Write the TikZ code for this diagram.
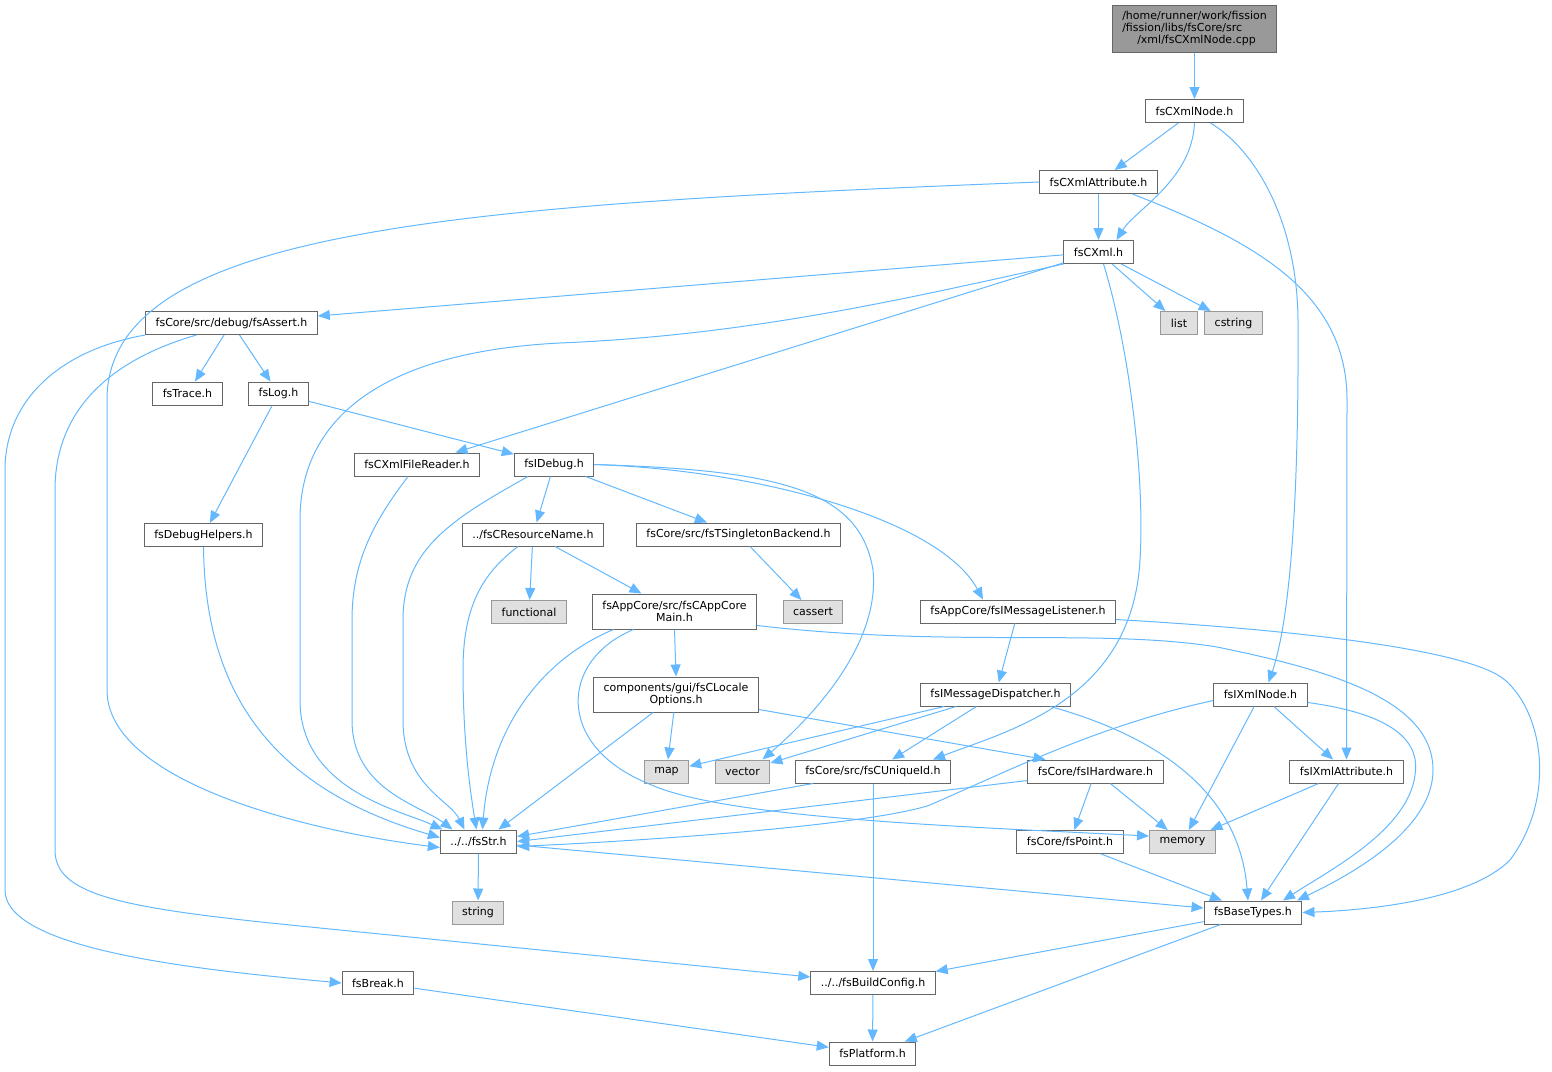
\documentclass[tikz,border=0pt]{standalone}
\usepackage{fontspec}
\setmainfont{DejaVu Sans}
\usetikzlibrary{arrows.meta}
\definecolor{edgeblue}{HTML}{63B8FF}
\definecolor{boxline}{HTML}{666666}
\definecolor{sysline}{HTML}{999999}
\definecolor{sysfill}{HTML}{E0E0E0}
\definecolor{rootfill}{HTML}{999999}

\begin{document}
\begin{tikzpicture}[x=1pt,y=-1pt,
  hdr/.style={draw=boxline,fill=white,line width=1pt,minimum height=23pt,
    inner xsep=10pt,inner ysep=2pt,align=center,font=\fontsize{11}{12}\selectfont},
  sys/.style={hdr,draw=sysline,fill=sysfill},
  root/.style={hdr,fill=rootfill,minimum height=47pt,align=left},
  twoline/.style={minimum height=35pt},
  inc/.style={color=edgeblue,line width=1pt,-{Triangle[length=12pt,width=10pt]}}]
  \useasboundingbox (0,0) rectangle (1552,1071);

  \node[root] (root) at (1194.5,28.5) {/home/runner/work/fission\\/fission/libs/fsCore/src\\\hspace*{15pt}/xml/fsCXmlNode.cpp};
  \node[hdr] (cxmlnode) at (1194.5,111) {fsCXmlNode.h};
  \node[hdr] (cxmlattr) at (1098.5,182) {fsCXmlAttribute.h};
  \node[hdr] (cxml) at (1098.5,252) {fsCXml.h};
  \node[sys] (list) at (1179,323) {list};
  \node[sys] (cstring) at (1233.5,323) {cstring};
  \node[hdr] (assert) at (231.5,323) {fsCore/src/debug/fsAssert.h};
  \node[hdr] (trace) at (187.5,393.5) {fsTrace.h};
  \node[hdr] (log) at (278.5,393.5) {fsLog.h};
  \node[hdr] (filereader) at (417,464.5) {fsCXmlFileReader.h};
  \node[hdr] (idebug) at (554,464.5) {fsIDebug.h};
  \node[hdr] (dbghelpers) at (203.5,535) {fsDebugHelpers.h};
  \node[hdr] (resname) at (533,534.5) {../fsCResourceName.h};
  \node[hdr] (singleton) at (738.5,534.5) {fsCore/src/fsTSingletonBackend.h};
  \node[sys] (functional) at (529,612) {functional};
  \node[hdr,twoline] (appcore) at (674.5,611.5) {fsAppCore/src/fsCAppCore\\Main.h};
  \node[sys] (cassert) at (813,612) {cassert};
  \node[hdr] (msglistener) at (1018,611.5) {fsAppCore/fsIMessageListener.h};
  \node[hdr,twoline] (locale) at (676,694.5) {components/gui/fsCLocale\\Options.h};
  \node[hdr] (msgdispatch) at (995.5,694.5) {fsIMessageDispatcher.h};
  \node[hdr] (ixmlnode) at (1260.5,694.5) {fsIXmlNode.h};
  \node[sys] (map) at (666.5,771.5) {map};
  \node[sys] (vector) at (742.5,771.5) {vector};
  \node[hdr] (uniqueid) at (873,771.5) {fsCore/src/fsCUniqueId.h};
  \node[hdr] (hardware) at (1095.5,771.5) {fsCore/fsIHardware.h};
  \node[hdr] (ixmlattr) at (1346.5,771.5) {fsIXmlAttribute.h};
  \node[hdr] (str) at (478.5,841.5) {../../fsStr.h};
  \node[hdr] (point) at (1070,842) {fsCore/fsPoint.h};
  \node[sys] (memory) at (1182.5,842) {memory};
  \node[sys] (string) at (478,912.5) {string};
  \node[hdr] (basetypes) at (1253,912.5) {fsBaseTypes.h};
  \node[hdr] (break) at (378,983) {fsBreak.h};
  \node[hdr] (buildcfg) at (873,983) {../../fsBuildConfig.h};
  \node[hdr] (platform) at (872.5,1053.5) {fsPlatform.h};

  \path[inc]
    (root) edge (cxmlnode)
    (cxmlnode) edge (cxmlattr)
    (cxmlattr) edge (cxml)
    (cxml) edge (assert)
           edge (filereader)
           edge (list)
           edge (cstring)
    (assert) edge (trace)
             edge (log)
    (log) edge (dbghelpers)
          edge (idebug)
    (idebug) edge (resname)
             edge (singleton)
    (resname) edge (functional)
              edge (appcore)
    (singleton) edge (cassert)
    (appcore.south) edge (locale.north)
    (msglistener) edge (msgdispatch)
    (locale) edge (map)
    (msgdispatch) edge (map)
                  edge (vector)
                  edge (uniqueid)
    (ixmlnode) edge (memory)
               edge (ixmlattr)
    (uniqueid) edge (buildcfg)
    (hardware) edge (point)
               edge (memory)
    (ixmlattr) edge (memory)
               edge (basetypes)
    (str) edge (string)
          edge (basetypes)
    (point) edge (basetypes)
    (basetypes) edge (buildcfg)
                edge (platform)
    (break) edge (platform)
    (buildcfg) edge (platform);

  \draw[inc] ([yshift=-15pt]locale.east) -- ([xshift=-50pt]hardware.north);
  \draw[inc] (cxmlnode.south) .. controls (1192,180) and (1135,210) .. ([xshift=18pt]cxml.north);
  \draw[inc] ([xshift=16pt]cxmlnode.south) .. controls (1255,150) and (1297,220) .. (1298,320)
    .. controls (1299,500) and (1290,620) .. ([xshift=8pt]ixmlnode.north);
  \draw[inc] ([xshift=34pt]cxmlattr.south) .. controls (1250,240) and (1347,290) .. (1347,400)
    -- (ixmlattr.north);
  \draw[inc] (cxmlattr.west) .. controls (450,205) and (107,230) .. (107,400) -- (107,690)
    .. controls (107,780) and (300,830) .. ([yshift=-6pt]str.west);
  \draw[inc] (cxml.south west) .. controls (900,300) and (750,335) .. (560,343)
    .. controls (380,352) and (300,420) .. (300,520) -- (300,700)
    .. controls (300,790) and (400,810) .. ([xshift=-36pt]str.north);
  \draw[inc] ([xshift=5pt]cxml.south) .. controls (1130,350) and (1145,480) .. (1140,560)
    .. controls (1132,700) and (1010,730) .. ([xshift=60pt]uniqueid.north);
  \draw[inc] (assert.south west) .. controls (60,350) and (5,400) .. (5,470) -- (5,890)
    .. controls (5,950) and (200,970) .. (break.west);
  \draw[inc] ([xshift=-35pt]assert.south) .. controls (110,360) and (55,410) .. (55,490) -- (55,850)
    .. controls (55,895) and (120,908) .. (300,926) -- ([yshift=6pt]buildcfg.west);
  \draw[inc] ([xshift=-9pt]filereader.south) .. controls (375,520) and (352,560) .. (352,620) -- (352,720)
    .. controls (352,790) and (420,805) .. ([xshift=-26pt]str.north);
  \draw[inc] (dbghelpers.south) .. controls (205,680) and (260,785) .. ([yshift=4pt]str.west);
  \draw[inc] ([xshift=-26pt]idebug.south) .. controls (450,520) and (403,550) .. (403,620) -- (403,720)
    .. controls (403,785) and (450,800) .. ([xshift=-14pt]str.north);
  \draw[inc] (idebug.east) .. controls (780,470) and (860,490) .. (873,570)
    .. controls (880,640) and (820,710) .. ([xshift=20pt]vector.north);
  \draw[inc] (idebug.east) .. controls (760,470) and (940,520) .. ([xshift=-35pt]msglistener.north);
  \draw[inc] ([xshift=-15pt]resname.south) .. controls (480,575) and (463,610) .. (463,670)
    .. controls (463,740) and (470,790) .. ([xshift=-2pt]str.north);
  \draw[inc] ([xshift=-61pt]appcore.south) .. controls (540,660) and (490,730) .. ([xshift=4pt]str.north);
  \draw[inc] ([xshift=-41pt]appcore.south) .. controls (560,660) and (555,745) .. (647,783)
    .. controls (720,818) and (950,826) .. ([yshift=6pt]memory.west);
  \draw[inc] ([yshift=-14pt]appcore.east) .. controls (950,648) and (1100,628) .. (1217,647)
    .. controls (1330,670) and (1433,700) .. (1433,770)
    .. controls (1433,830) and (1350,875) .. ([xshift=44pt]basetypes.north);
  \draw[inc] ([yshift=-8pt]msglistener.east) .. controls (1300,630) and (1470,650) .. (1505,680)
    .. controls (1545,715) and (1555,800) .. (1510,860)
    .. controls (1470,900) and (1370,910) .. (basetypes.east);
  \draw[inc] ([xshift=-23pt]locale.south) -- ([xshift=20pt]str.north);
  \draw[inc] ([xshift=55pt]msgdispatch.south) .. controls (1170,740) and (1240,800) .. ([xshift=-5pt]basetypes.north);
  \draw[inc] ([yshift=-8pt]ixmlnode.east) .. controls (1400,715) and (1420,745) .. (1415,775)
    .. controls (1408,830) and (1330,870) .. ([xshift=30pt]basetypes.north);
  \draw[inc] ([yshift=-6pt]ixmlnode.west) .. controls (1100,725) and (1010,770) .. (930,805)
    .. controls (880,822) and (700,838) .. ([yshift=-5pt]str.east);
  \draw[inc] ([xshift=-60pt]uniqueid.south) -- ([yshift=5pt]str.east);
  \draw[inc] ([yshift=-9pt]hardware.west) -- (str.east);
\end{tikzpicture}
\end{document}
